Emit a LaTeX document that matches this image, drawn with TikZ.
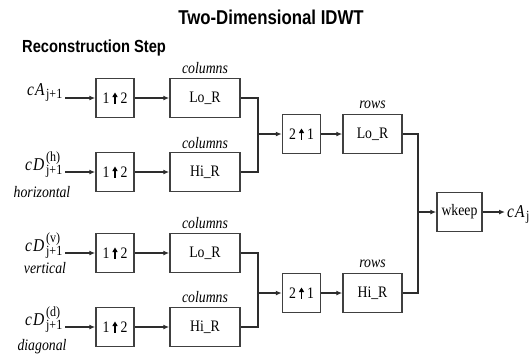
\documentclass[tikz,border=0pt]{standalone}
\usepackage{fontspec}
\setmainfont{Liberation Serif}[FakeStretch=0.86]
\newfontfamily\headfont{Liberation Sans}[FakeStretch=0.84]
\usetikzlibrary{arrows.meta}
\definecolor{blkgray}{RGB}{64,64,64}
\definecolor{wiregray}{RGB}{45,45,45}

\newcommand{\blkfont}{\fontsize{16}{18}\selectfont}
\newcommand{\subfont}{\fontsize{14}{15}\selectfont}
\newcommand{\dimfont}{\fontsize{16}{18}\selectfont\itshape}
\newcommand{\sigfont}{\fontsize{18}{20}\selectfont}
% bold up arrow between the two factors
\newcommand{\upsmp}[2]{#1\hspace{3pt}\tikz[baseline=0pt]{\draw[line width=1.4pt, draw=black, -{Triangle[length=4.5pt,width=5pt]}] (0pt,0pt) -- (0pt,11pt);}\hspace{3pt}#2}

\tikzset{
  blk/.style={draw=blkgray, line width=1.5pt, inner sep=0pt, minimum height=39pt, font=\blkfont},
  upbox/.style={blk, minimum width=38pt},
  filtbox/.style={blk, minimum width=70pt},
  rowbox/.style={blk, minimum width=59pt},
  keepbox/.style={blk, minimum width=45pt},
  dimlabel/.style={font=\dimfont, inner sep=0pt},
  siglabel/.style={font=\sigfont, inner sep=0pt},
  wire/.style={draw=wiregray, line width=1.3pt},
  sigarrow/.style={wire, -{Latex[length=6pt,width=5pt]}},
}

\begin{document}
\begin{tikzpicture}[x=1pt, y=-1pt]
  \useasboundingbox (0,0) rectangle (532,360);

  % Titles
  \node[font=\headfont\bfseries\fontsize{20}{22}\selectfont] (title) at (271,17) {Two-Dimensional IDWT};
  \node[font=\headfont\bfseries\fontsize{17.5}{20}\selectfont, anchor=west, inner sep=0pt] (step) at (22,48) {Reconstruction Step};

  % Inputs
  \node[siglabel, anchor=base east] (ca) at (63,95) {$\mathit{cA}_{\mbox{\subfont j+1}}$};
  \node[siglabel, anchor=base east] (dh) at (63,170) {$\mathit{cD}^{\mbox{\subfont (h)}}_{\mbox{\subfont j+1}}$};
  \node[siglabel, anchor=base east] (dv) at (63,251) {$\mathit{cD}^{\mbox{\subfont (v)}}_{\mbox{\subfont j+1}}$};
  \node[siglabel, anchor=base east] (dd) at (63,325) {$\mathit{cD}^{\mbox{\subfont (d)}}_{\mbox{\subfont j+1}}$};
  \node[dimlabel, anchor=base] (hz) at (42,197) {horizontal};
  \node[dimlabel, anchor=base] (vt) at (45,273) {vertical};
  \node[dimlabel, anchor=base] (dg) at (42,350) {diagonal};

  % Upsample columns
  \node[upbox] (up1) at (115,98) {\upsmp12};
  \node[upbox] (up2) at (115,172) {\upsmp12};
  \node[upbox] (up3) at (115,253) {\upsmp12};
  \node[upbox] (up4) at (115,327) {\upsmp12};

  % Column filters
  \node[filtbox] (f1) at (205,98) {Lo\_R};
  \node[filtbox] (f2) at (205,172) {Hi\_R};
  \node[filtbox] (f3) at (205,253) {Lo\_R};
  \node[filtbox] (f4) at (205,327) {Hi\_R};
  \node[dimlabel] (col1) at (205,68) {columns};
  \node[dimlabel] (col2) at (205,143) {columns};
  \node[dimlabel] (col3) at (205,223) {columns};
  \node[dimlabel] (col4) at (205,297) {columns};

  \draw[sigarrow, shorten <=2pt] (ca.east |- up1.west) -- (up1.west);
  \draw[sigarrow, shorten <=2pt] (dh.east |- up2.west) -- (up2.west);
  \draw[sigarrow, shorten <=2pt] (dv.east |- up3.west) -- (up3.west);
  \draw[sigarrow, shorten <=2pt] (dd.east |- up4.west) -- (up4.west);
  \draw[sigarrow] (up1) -- (f1);
  \draw[sigarrow] (up2) -- (f2);
  \draw[sigarrow] (up3) -- (f3);
  \draw[sigarrow] (up4) -- (f4);

  % Upsample rows
  \node[upbox] (us1) at (301.5,134) {\upsmp21};
  \node[upbox] (us2) at (301.5,293) {\upsmp21};
  \coordinate (m1) at (258,134);
  \coordinate (m2) at (258,293);
  \draw[wire] (f1.east) -| (m1) |- (f2.east);
  \draw[wire] (f3.east) -| (m2) |- (f4.east);
  \draw[sigarrow] (m1) -- (us1);
  \draw[sigarrow] (m2) -- (us2);

  % Row filters
  \node[rowbox] (r1) at (372.5,134) {Lo\_R};
  \node[rowbox] (r2) at (372.5,293) {Hi\_R};
  \node[dimlabel] (row1) at (372.5,105) {rows};
  \node[dimlabel] (row2) at (372.5,264) {rows};
  \draw[sigarrow] (us1) -- (r1);
  \draw[sigarrow] (us2) -- (r2);

  % Keep central part
  \node[keepbox] (wk) at (459.5,212) {wkeep};
  \coordinate (m3) at (418,212);
  \draw[wire] (r1.east) -| (m3) |- (r2.east);
  \draw[sigarrow] (m3) -- (wk);
  \node[siglabel, anchor=base west] (caj) at (507,217) {$\mathit{cA}_{\mbox{\subfont j}}$};
  \draw[sigarrow, shorten >=2pt] (wk.east) -- (caj.west |- wk.east);
\end{tikzpicture}
\end{document}
